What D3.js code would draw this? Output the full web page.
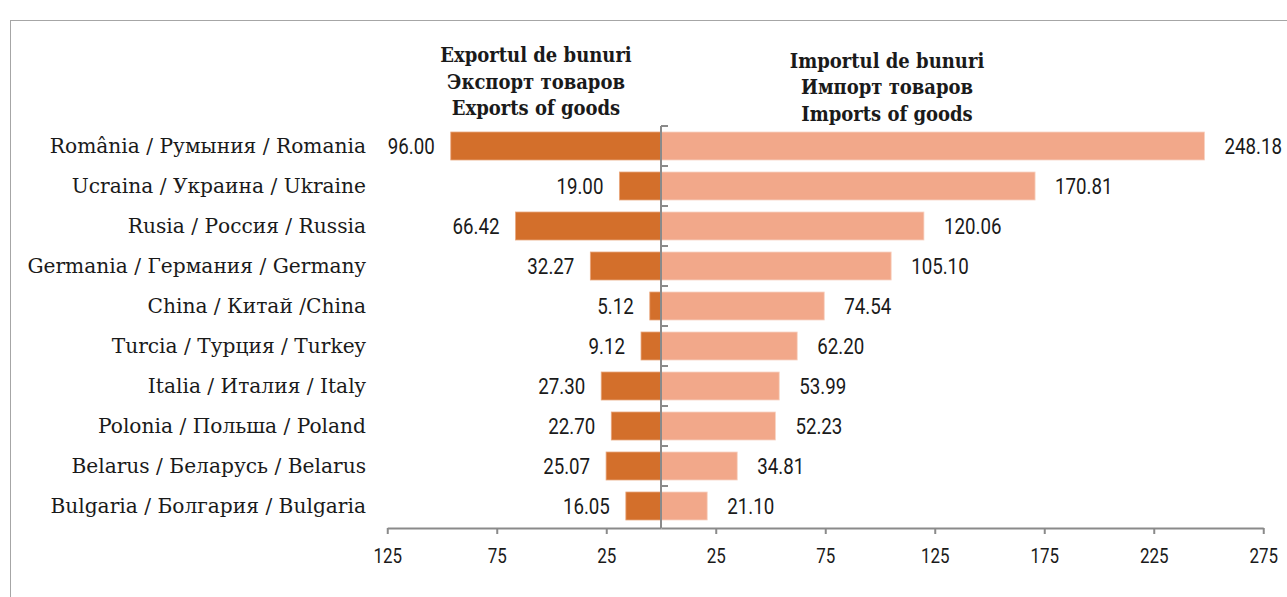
<!DOCTYPE html>
<html>
<head>
  <meta charset="utf-8">
  <title>Exports / imports of goods</title>
  <script src="https://d3js.org/d3.v7.min.js"></script>
  <style>
    body { margin: 0; background: #fff; }
    svg { display: block; }
    .cat { font-family: 'DejaVu Serif', serif; font-size: 20.2px; fill: #1a1a1a; }
    .head { font-family: 'DejaVu Serif Condensed', 'DejaVu Serif', serif; font-size: 20px; font-weight: bold; fill: #1a1a1a; }
    .val { font-family: Roboto, 'Liberation Sans', sans-serif; font-size: 21.5px; fill: #1a1a1a; }
    .tick text { font-family: Roboto, 'Liberation Sans', sans-serif; font-size: 19.5px; }
  </style>
</head>
<body>

<svg></svg>

<script>

var countries = [
  'România / Румыния / Romania',
  'Ucraina / Украина / Ukraine',
  'Rusia / Россия / Russia',
  'Germania / Германия / Germany',
  'China / Китай /China',
  'Turcia / Турция / Turkey',
  'Italia / Италия / Italy',
  'Polonia / Польша / Poland',
  'Belarus / Беларусь / Belarus',
  'Bulgaria / Болгария / Bulgaria'
]
var exportsVals = [96.00, 19.00, 66.42, 32.27, 5.12, 9.12, 27.30, 22.70, 25.07, 16.05]
var importsVals = [248.18, 170.81, 120.06, 105.10, 74.54, 62.20, 53.99, 52.23, 34.81, 21.10]

var leftTicks = [25, 75, 125]
var rightTicks = [25, 75, 125, 175, 225, 275]

var exportsHead = ['Exportul de bunuri', 'Экспорт товаров', 'Exports of goods']
var importsHead = ['Importul de bunuri', 'Импорт товаров', 'Imports of goods']

var width = 1287, height = 597
var svg = d3.select('svg').attr('width', width).attr('height', height)

// frame
svg.append('rect')
  .attr('x', 10.5).attr('y', 20.5)
  .attr('width', 1400).attr('height', 700)
  .attr('fill', 'none').attr('stroke', '#a6a6a6')

var zeroX = 661
var xLeft = d3.scaleLinear().domain([0, 125]).range([zeroX, zeroX - 125 * 2.19])
var xRight = d3.scaleLinear().domain([0, 275]).range([zeroX, zeroX + 275 * 2.19])
var axisY = 528
var narrow = 0.87   // the source font is condensed

var y = d3.scaleBand().domain(countries).range([126, 526]).paddingInner(0.3).paddingOuter(0.15)

var rows = countries.map((c, i) => ({name: c, ex: exportsVals[i], im: importsVals[i]}))

// bars
svg.selectAll('.exBar').data(rows).enter().append('rect')
  .attr('class', 'exBar')
  .attr('x', (d) => xLeft(d.ex))
  .attr('y', (d) => y(d.name))
  .attr('width', (d) => zeroX - xLeft(d.ex))
  .attr('height', y.bandwidth())
  .attr('fill', '#d36f2b')
  .attr('stroke', '#e9a77e').attr('stroke-width', 0.8)

svg.selectAll('.imBar').data(rows).enter().append('rect')
  .attr('class', 'imBar')
  .attr('x', zeroX)
  .attr('y', (d) => y(d.name))
  .attr('width', (d) => xRight(d.im) - zeroX)
  .attr('height', y.bandwidth())
  .attr('fill', '#f2a88a')
  .attr('stroke', '#f8d3c3').attr('stroke-width', 0.8)

// value labels
function valPos(x, d) {
  return 'translate(' + x + ',' + (y(d.name) + y.bandwidth() / 2) + ') scale(' + narrow + ',1)'
}

svg.selectAll('.exVal').data(rows).enter().append('text')
  .attr('class', 'val')
  .attr('transform', (d) => valPos(xLeft(d.ex) - 16, d))
  .attr('dy', '0.36em')
  .attr('text-anchor', 'end')
  .text((d) => d.ex.toFixed(2))

svg.selectAll('.imVal').data(rows).enter().append('text')
  .attr('class', 'val')
  .attr('transform', (d) => valPos(xRight(d.im) + 20, d))
  .attr('dy', '0.36em')
  .text((d) => d.im.toFixed(2))

// category labels
svg.selectAll('.cat').data(rows).enter().append('text')
  .attr('class', 'cat')
  .attr('x', 366)
  .attr('y', (d) => y(d.name) + y.bandwidth() / 2)
  .attr('dy', '0.36em')
  .attr('text-anchor', 'end')
  .text((d) => d.name)

// horizontal axes
var axisColor = '#8a8a8a'
var gL = svg.append('g').attr('transform', 'translate(0,' + axisY + ')')
  .call(d3.axisBottom(xLeft).tickValues(leftTicks).tickSizeInner(6).tickSizeOuter(0).tickPadding(15))
var gR = svg.append('g').attr('transform', 'translate(0,' + axisY + ')')
  .call(d3.axisBottom(xRight).tickValues(rightTicks).tickSizeInner(6).tickSizeOuter(0).tickPadding(15))
;[gL, gR].forEach((g) => {
  g.select('.domain').attr('stroke', axisColor).attr('stroke-width', 2)
  g.selectAll('.tick line').attr('stroke', axisColor).attr('stroke-width', 2)
  g.selectAll('.tick text').attr('fill', '#1a1a1a').attr('transform', 'scale(' + narrow + ',1)')
})

// vertical centre axis with category ticks
svg.append('line')
  .attr('x1', zeroX).attr('x2', zeroX)
  .attr('y1', 126).attr('y2', axisY)
  .attr('stroke', axisColor).attr('stroke-width', 2)

var bounds = countries.map((c) => y(c) - y.step() * y.paddingInner() / 2)
svg.selectAll('.catTick').data(bounds).enter().append('line')
  .attr('x1', zeroX).attr('x2', zeroX + 7)
  .attr('y1', (d) => d).attr('y2', (d) => d)
  .attr('stroke', axisColor).attr('stroke-width', 2)

// headers
svg.selectAll('.exHead').data(exportsHead).enter().append('text')
  .attr('class', 'head')
  .attr('x', 536)
  .attr('y', (d, i) => 55 + i * 26.5)
  .attr('dy', '0.36em')
  .attr('text-anchor', 'middle')
  .text((d) => d)

svg.selectAll('.imHead').data(importsHead).enter().append('text')
  .attr('class', 'head')
  .attr('x', 887)
  .attr('y', (d, i) => 60.5 + i * 26.5)
  .attr('dy', '0.36em')
  .attr('text-anchor', 'middle')
  .text((d) => d)

</script>

</body>
</html>
